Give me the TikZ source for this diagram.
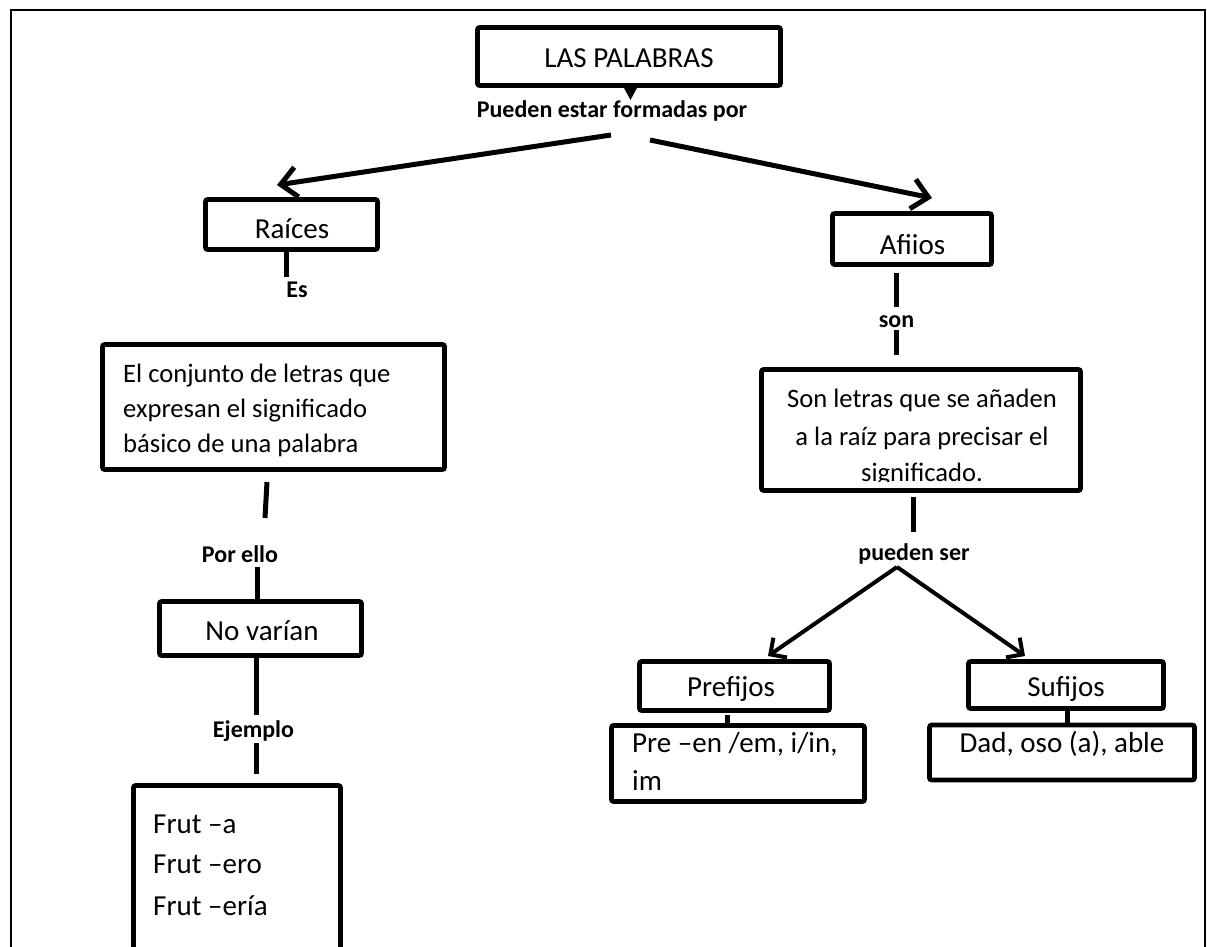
\documentclass[tikz,border=0pt]{standalone}
\usepackage{fontspec}
\setmainfont{Carlito}
\usetikzlibrary{arrows.meta}
\begin{document}
\begin{tikzpicture}[x=1pt,y=-1pt,
  box/.style={draw, line width=4.6pt, rounded corners=2pt, inner sep=0pt},
  txt/.style={font=\fontsize{29pt}{35pt}\selectfont, inner sep=0pt, anchor=base},
  txtl/.style={font=\fontsize{29pt}{35pt}\selectfont, inner sep=0pt, anchor=base west},
  txts/.style={font=\fontsize{26.6pt}{35pt}\selectfont, inner sep=0pt, anchor=base},
  txtsl/.style={font=\fontsize{26.6pt}{35pt}\selectfont, inner sep=0pt, anchor=base west},
  lbl/.style={font=\bfseries\fontsize{24pt}{28pt}\selectfont, inner sep=0pt, anchor=base},
  conn/.style={line width=5pt},
  arrbig/.style={line width=5pt, -{Straight Barb[length=16pt,width=30pt]}},
  arrsmall/.style={line width=4pt, -{Straight Barb[length=12pt,width=24pt]}}]
\clip (0,0) rectangle (1207,947);
% outer frame
\draw[line width=2.5pt] (11,980) -- (11,10) -- (1205,10) -- (1205,980);

% boxes
\node[box, minimum width=303pt, minimum height=58pt] (lp) at (629,56.5) {};
\node[box, minimum width=172pt, minimum height=50pt] (ra) at (291.5,224.5) {};
\node[box, minimum width=342pt, minimum height=125pt] (lb) at (273.5,407) {};
\node[box, minimum width=202pt, minimum height=54pt] (nv) at (260.5,628.5) {};
\node[box, minimum width=207pt, minimum height=200pt] (fr) at (237,885.5) {};
\node[box, minimum width=159pt, minimum height=51pt] (af) at (912,239) {};
\node[box, minimum width=319pt, minimum height=121pt] (rb) at (921,430) {};
\node[box, minimum width=190pt, minimum height=49pt] (pr) at (734.5,686) {};
\node[box, minimum width=195pt, minimum height=47pt] (su) at (1066,685) {};
\node[box, minimum width=253pt, minimum height=76pt] (pe) at (738,763.5) {};
\node[box, minimum width=265pt, minimum height=55pt] (da) at (1062,752.5) {};

% texts
\node[txt] (tlp) at (629,68) {LAS PALABRAS};
\node[lbl] (lpf) at (612,118) {Pueden estar formadas por};
\node[txt] (tra) at (292,238) {Raíces};
\node[lbl] (les) at (297,297) {Es};
\node[txtsl] (lb1) at (123,382) {El conjunto de letras que};
\node[txtsl] (lb2) at (123,417) {expresan el significado};
\node[txtsl] (lb3) at (123,452) {básico de una palabra};
\node[lbl] (lpe) at (240,562) {Por ello};
\node[txt] (tnv) at (262,640) {No varían};
\node[lbl] (lej) at (253.5,737) {Ejemplo};
\node[txtl] (fr1) at (153,833) {Frut –a};
\node[txtl] (fr2) at (153,873) {Frut –ero};
\node[txtl] (fr3) at (153,915) {Frut –ería};
\begin{scope}
\clip (830,200) rectangle (994,254.5);
\node[txt] (taf) at (912.5,254) {Afiios};
\end{scope}
\node[lbl] (lso) at (896.5,327) {son};
\node[txts] (rb1) at (922,407) {Son letras que se añaden};
\node[txts] (rb2) at (922,445) {a la raíz para precisar el};
\begin{scope}
\clip (760,450) rectangle (1083,481.5);
\node[txts] (rb3) at (922,481) {significado.};
\end{scope}
\node[lbl] (lps) at (914,560) {pueden ser};
\node[txt] (tpr) at (731,696) {Prefijos};
\node[txt] (tsu) at (1066,696) {Sufijos};
\node[txtl] (pe1) at (632,752) {Pre –en /em, i/in,};
\node[txtl] (pe2) at (632,790) {im};
\node[txt] (tda) at (1062,752) {Dad, oso (a), able};

% pointer under title
\fill (623,86) -- (638,86) -- (630.5,100) -- cycle;

% coordinates
\coordinate (a1) at (611,135);
\coordinate (a1t) at (277,185);
\coordinate (a2) at (650,140);
\coordinate (a2t) at (932,198);
\coordinate (e1) at (286,277);
\coordinate (p1) at (267,482);
\coordinate (p2) at (265,518);
\coordinate (p3) at (257,567);
\coordinate (j1) at (256,715);
\coordinate (j2) at (256,743);
\coordinate (j3) at (256,774);
\coordinate (s1) at (896,273);
\coordinate (s2) at (896,307);
\coordinate (s3) at (896,330);
\coordinate (s4) at (896,355);
\coordinate (q1) at (913,497);
\coordinate (q2) at (913,532);
\coordinate (ap) at (897,567);
\coordinate (t1) at (768,656);
\coordinate (t2) at (1025,656);
\coordinate (x1) at (727,715);
\coordinate (x2) at (1067,709);

% connectors
\draw[arrbig] (a1) -- (a1t);
\draw[arrbig] (a2) -- (a2t);
\draw[conn] (ra.south -| e1) -- (e1);
\draw[conn] (p1) -- (p2);
\draw[conn] (p3) -- (nv.north -| p3);
\draw[conn] (nv.south -| j1) -- (j1);
\draw[conn] (j2) -- (j3);
\draw[conn] (s1) -- (s2);
\draw[conn] (s3) -- (s4);
\draw[conn] (q1) -- (q2);
\draw[arrsmall] (ap) -- (t1);
\draw[arrsmall] (ap) -- (t2);
\draw[conn] (x1) -- (pe.north -| x1);
\draw[conn] (x2) -- (da.north -| x2);
\end{tikzpicture}
\end{document}
